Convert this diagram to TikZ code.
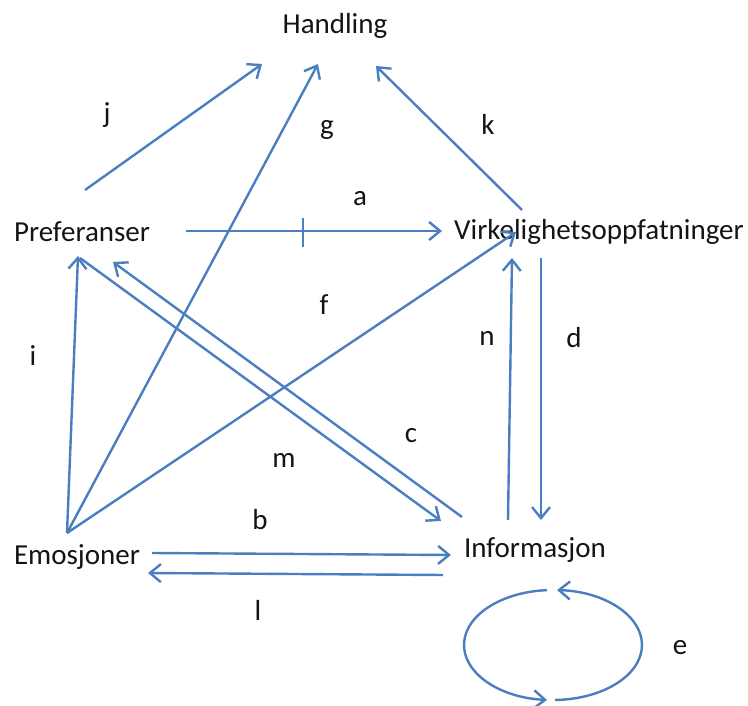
\documentclass[tikz,border=0pt]{standalone}
\usepackage{fontspec}
\setmainfont{Carlito}
\usetikzlibrary{arrows.meta}
\definecolor{lineblue}{RGB}{74,126,193}
\definecolor{textgray}{RGB}{20,20,20}
\begin{document}
\begin{tikzpicture}[x=1pt,y=-1pt,
  arr/.style={draw=lineblue,line width=2.4pt,-{Straight Barb[length=11pt,width=18pt,line width=2.4pt]}},
  lbl/.style={font=\fontsize{29}{34}\selectfont,text=textgray,inner sep=0pt,anchor=center},
  letter/.style={font=\fontsize{29}{34}\selectfont,text=textgray,inner sep=0pt,anchor=center}]
\useasboundingbox (0,0) rectangle (748,706);
% main nodes
\node[lbl] (H) at (335,26) {Handling};
\node[lbl] (P) at (82,232) {Preferanser};
\node[lbl] (V) at (599,232) {Virkelighetsoppfatninger};
\node[lbl] (E) at (77,557) {Emosjoner};
\node[lbl] (I) at (535,550) {Informasjon};
% endpoints
\coordinate (jS) at (85,190);   \coordinate (jT) at (262,64);
\coordinate (gS) at (67,533);   \coordinate (gT) at (318,64);
\coordinate (kS) at (522,210);  \coordinate (kT) at (376,66);
\coordinate (aS) at (186,231);  \coordinate (aT) at (442,231);
\coordinate (fT) at (516,232);
\coordinate (iT) at (78,256);
\coordinate (cS) at (462,517);  \coordinate (cT) at (113,262);
\coordinate (mS) at (80,258);   \coordinate (mT) at (441,521);
\coordinate (nS) at (508,520);  \coordinate (nT) at (512,258);
\coordinate (dS) at (541,258);  \coordinate (dT) at (541,520);
\coordinate (bS) at (152,553);  \coordinate (bT) at (451,555);
\coordinate (lS) at (443,575);  \coordinate (lT) at (148,573);
\coordinate (tickA) at (303,218); \coordinate (tickB) at (303,247);
% connectors
\draw[arr] (jS) -- (jT);
\draw[arr] (gS) -- (gT);
\draw[arr] (kS) -- (kT);
\draw[arr] (aS) -- (aT);
\draw[draw=lineblue,line width=2.4pt] (tickA) -- (tickB);
\draw[arr] (gS) -- (fT);
\draw[arr] (gS) -- (iT);
\draw[arr] (cS) -- (cT);
\draw[arr] (mS) -- (mT);
\draw[arr] (nS) -- (nT);
\draw[arr] (dS) -- (dT);
\draw[arr] (bS) -- (bT);
\draw[arr] (lS) -- (lT);
% self loop e
\coordinate (eC) at (553,645);
\draw[arr] ([shift={(88.7:89 and 55)}]eC) arc[start angle=88.7,end angle=-87.4,x radius=89,y radius=55];
\draw[arr] ([shift={(-93.9:89 and 55)}]eC) arc[start angle=-93.9,end angle=-266.1,x radius=89,y radius=55];
% labels
\node[letter] (lj) at (107,115) {j};
\node[letter] (lg) at (327,130) {g};
\node[letter] (lk) at (488,124) {k};
\node[letter] (la) at (360,199) {a};
\node[letter] (lf) at (324,305) {f};
\node[letter] (li) at (33,356) {i};
\node[letter] (ln) at (487,338) {n};
\node[letter] (ld) at (574,338) {d};
\node[letter] (lc) at (411,436) {c};
\node[letter] (lm) at (284,460) {m};
\node[letter] (lb) at (260,520) {b};
\node[letter] (ll) at (258,610) {l};
\node[letter] (le) at (680,648) {e};
\end{tikzpicture}
\end{document}
